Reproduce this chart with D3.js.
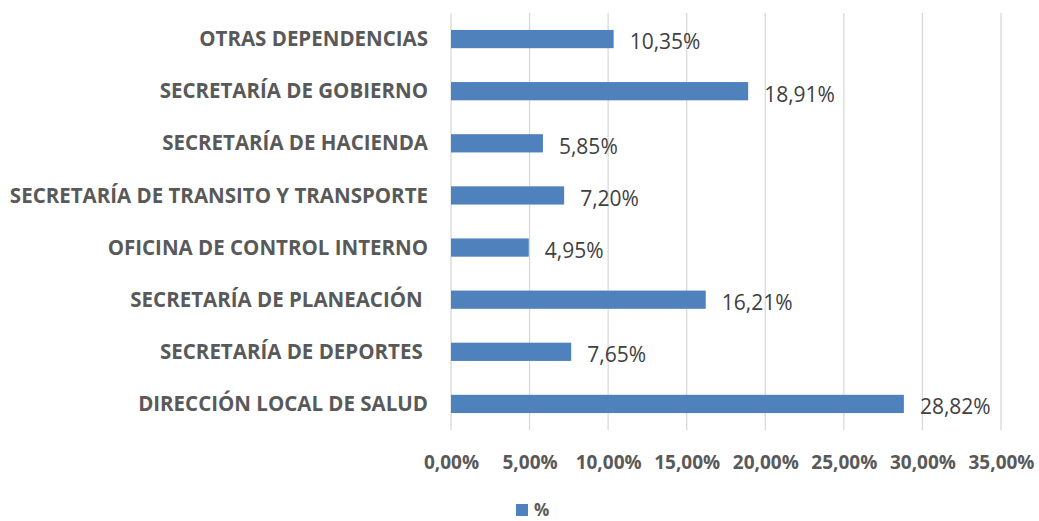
<!DOCTYPE html>
<html>
<head>
<meta charset="utf-8">
<script src="https://cdn.jsdelivr.net/npm/d3@7"></script>
<style>
  body { margin: 0; background: #fff; }
  text { font-family: "Open Sans", "Noto Sans", sans-serif; }
</style>
</head>
<body>
<div id="chart"></div>
<script>
var categories = [
  "OTRAS DEPENDENCIAS",
  "SECRETARÍA DE GOBIERNO",
  "SECRETARÍA DE HACIENDA",
  "SECRETARÍA DE TRANSITO Y TRANSPORTE",
  "OFICINA DE CONTROL INTERNO",
  "SECRETARÍA DE PLANEACIÓN ",
  "SECRETARÍA DE DEPORTES ",
  "DIRECCIÓN LOCAL DE SALUD"
]
var values = [10.35, 18.91, 5.85, 7.20, 4.95, 16.21, 7.65, 28.82]
var ticks = [0, 5, 10, 15, 20, 25, 30, 35]
var seriesName = "%"

var width = 1039, height = 521
var margin = {top: 13, left: 451, right: 38, bottom: 91}

var svg = d3.select("#chart").append("svg")
  .attr("width", width)
  .attr("height", height)

var x = d3.scaleLinear()
  .domain([0, 35])
  .range([margin.left, width - margin.right])

var y = d3.scaleBand()
  .domain(categories)
  .range([margin.top, height - margin.bottom])
  .paddingInner(0.65)
  .paddingOuter(0.325)

var fmt = function(v) { return v.toFixed(2).replace(".", ",") + "%" }

// gridlines
svg.append("g")
  .selectAll("line")
  .data(ticks)
  .enter().append("line")
  .attr("x1", function(d) { return x(d) })
  .attr("x2", function(d) { return x(d) })
  .attr("y1", margin.top)
  .attr("y2", height - margin.bottom)
  .attr("stroke", "#d9d9d9")
  .attr("stroke-width", 1.3)

// x axis labels
var xAxis = d3.axisBottom(x)
  .tickValues(ticks)
  .tickSize(0)
  .tickPadding(0)
  .tickFormat(function(d) { return d.toFixed(2).replace(".", ",") + "%" })

svg.append("g")
  .attr("transform", "translate(0," + (height - margin.bottom + 25) + ")")
  .call(xAxis)
  .call(function(g) { g.select(".domain").remove() })
  .selectAll("text")
  .attr("fill", "#595959")
  .style("font-size", "19px")
  .style("font-weight", "bold")
  .style("font-family", "'Open Sans', sans-serif")

// category labels
svg.append("g")
  .selectAll("text")
  .data(categories)
  .enter().append("text")
  .attr("x", 428)
  .attr("y", function(d) { return y(d) + y.bandwidth() / 2 })
  .attr("dy", "0.35em")
  .attr("text-anchor", "end")
  .attr("fill", "#595959")
  .style("font-size", "20.5px")
  .style("font-weight", "bold")
  .style("white-space", "pre")
  .text(function(d) { return d })

// bars
svg.append("g")
  .selectAll("rect")
  .data(values)
  .enter().append("rect")
  .attr("x", x(0))
  .attr("y", function(d, i) { return y(categories[i]) })
  .attr("width", function(d) { return x(d) - x(0) })
  .attr("height", y.bandwidth())
  .attr("fill", "#4f81bd")

// value labels
svg.append("g")
  .selectAll("text")
  .data(values)
  .enter().append("text")
  .attr("x", function(d) { return x(d) + 16 })
  .attr("y", function(d, i) { return y(categories[i]) + y.bandwidth() / 2 + 3 })
  .attr("dy", "0.35em")
  .attr("fill", "#404040")
  .style("font-size", "21px")
  .text(fmt)

// legend
var legend = svg.append("g").attr("transform", "translate(516,504)")
legend.append("rect")
  .attr("width", 12).attr("height", 12)
  .attr("fill", "#4f81bd")
legend.append("text")
  .attr("x", 18).attr("y", 6)
  .attr("dy", "0.35em")
  .attr("fill", "#595959")
  .style("font-size", "17px")
  .style("font-weight", "bold")
  .text(seriesName)
</script>
</body>
</html>
